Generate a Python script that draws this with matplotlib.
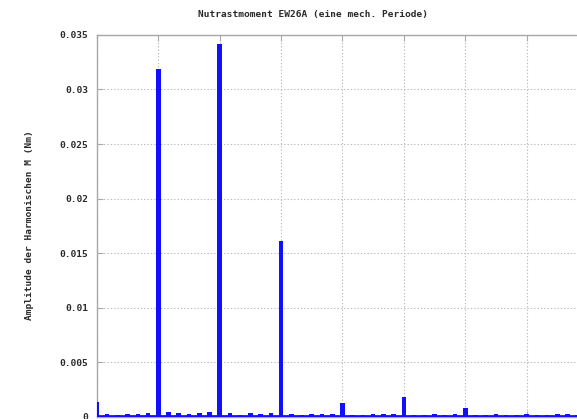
import matplotlib
matplotlib.use('Agg')
import matplotlib.pyplot as plt

# Harmonische (Ordnung bezogen auf eine mech. Periode) und Amplituden in Nm
harmonics = list(range(48))
amplitudes = [
    0.0014, 0.0003, 0.0002, 0.0003, 0.0003, 0.0004,
    0.0319, 0.0005, 0.0004, 0.0003, 0.0004, 0.0005,
    0.0342, 0.0004, 0.0002, 0.0004, 0.0003, 0.0004,
    0.0161, 0.0003, 0.0002, 0.0003, 0.0003, 0.0003,
    0.0013, 0.0002, 0.0002, 0.0003, 0.0003, 0.0003,
    0.0018, 0.0002, 0.0002, 0.0003, 0.0002, 0.0003,
    0.0008, 0.0002, 0.0002, 0.0003, 0.0002, 0.0002,
    0.0003, 0.0002, 0.0002, 0.0003, 0.0003, 0.0002,
]
y_ticks = [0, 0.005, 0.01, 0.015, 0.02, 0.025, 0.03, 0.035]
y_labels = ['0', '0.005', '0.01', '0.015', '0.02', '0.025', '0.03', '0.035']
x_ticks = list(range(0, 43, 6))

title = 'Nutrastmoment EW26A (eine mech. Periode)'
ylabel = 'Amplitude der Harmonischen M (Nm)'

font = {'family': 'DejaVu Sans Mono', 'size': 6.8, 'weight': 'bold', 'color': '#2a2a2a'}

fig = plt.figure(figsize=(5.77, 4.19), dpi=100)
ax = fig.add_axes([0.168, 0.0048, 0.851, 0.912])

ax.bar(harmonics, amplitudes, width=0.45, color='#1010ff', align='center', zorder=3)
# Grundlinie der Balken
ax.axhline(0.00012, color='#1010ff', linewidth=2.0, zorder=3)

ax.set_xlim(0, 48)
ax.set_ylim(0, 0.035)
ax.set_xticks(x_ticks)
ax.set_yticks(y_ticks)
ax.set_yticklabels(y_labels, fontdict=font)
ax.grid(True, color='#bbbbbb', linestyle=(0, (1.2, 1.8)), linewidth=0.8, zorder=0)
ax.tick_params(direction='in', top=True, right=False, labelbottom=False,
               length=4, color='#aaaaaa', pad=6)
for side in ax.spines.values():
    side.set_color('#a8a8a8')
    side.set_linewidth(1.0)
ax.spines['right'].set_visible(False)

fig.text(313 / 577, 1 - 14 / 419, title, ha='center', va='center', fontdict=font)
fig.text(30 / 577, 1 - 225 / 419, ylabel, ha='center', va='center',
         rotation=90, fontdict=font)

fig.savefig('out.png', dpi=100)
